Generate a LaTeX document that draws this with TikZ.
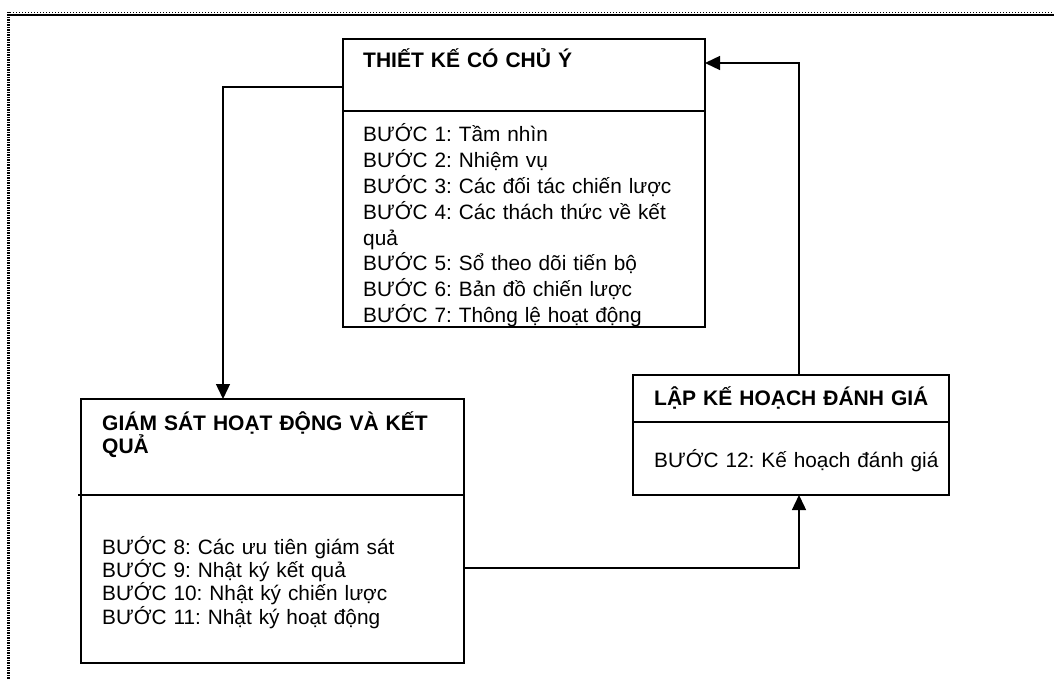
\documentclass[tikz,border=0pt]{standalone}
\usepackage{fontspec}
\setmainfont{Liberation Sans}
\usetikzlibrary{arrows.meta}
\frenchspacing

\begin{document}
\begin{tikzpicture}[x=1pt, y=-1pt,
    box/.style={draw, rectangle, line width=2pt, anchor=north west, inner sep=0pt, outer sep=0pt},
    rule/.style={line width=2pt},
    flow/.style={-{Triangle[length=15pt, width=14pt]}, line width=1.4pt},
    headtext/.style={anchor=base west, inner sep=0pt, align=left, text width=420pt, font=\bfseries\fontsize{21}{23.3}\selectfont},
    itemtext/.style={anchor=base west, inner sep=0pt, align=left, text width=420pt, font=\fontsize{20.8}{22}\selectfont}]
    \useasboundingbox (0,0) rectangle (1054,679);

    % page frame
    \draw [line width=1pt, dotted] (7,12.5) -- (1054,12.5);
    \draw [line width=2pt] (9,15.5) -- (1054,15.5);
    \draw [line width=3pt, dash pattern=on 1.5pt off 1pt] (8.5,12) -- (8.5,679);

    % boxes
    \node [box, minimum width=362pt, minimum height=288pt] (designbox) at (343,39) {};
    \node [box, minimum width=383pt, minimum height=264pt] (monitorbox) at (81,399) {};
    \node [box, minimum width=316pt, minimum height=120pt] (planbox) at (633,375) {};

    \draw [rule] (designbox.west |- 0,111) -- (designbox.east |- 0,111);
    \draw [rule] (78,495) -- (monitorbox.east |- 0,495);
    \draw [rule] (planbox.west |- 0,422) -- (planbox.east |- 0,422);

    % texts
    \node [headtext] (designtitle) at (363,68) {THIẾT KẾ CÓ CHỦ Ý};
    \begin{scope}
        \clip (343,112) rectangle (705,326.5);
        \node [itemtext, font=\fontsize{20.8}{25.8}\selectfont] (designsteps) at (363,142) {BƯỚC 1: Tầm nhìn\\
            BƯỚC 2: Nhiệm vụ\\
            BƯỚC 3: Các đối tác chiến lược\\
            BƯỚC 4: Các thách thức về kết\\
            quả\\
            BƯỚC 5: Sổ theo dõi tiến bộ\\
            BƯỚC 6: Bản đồ chiến lược\\
            BƯỚC 7: Thông lệ hoạt động};
    \end{scope}

    \node [headtext] (monitortitle) at (102,430) {GIÁM SÁT HOẠT ĐỘNG VÀ KẾT\\ QUẢ};
    \node [itemtext] (monitorsteps) at (102,554) {BƯỚC 8: Các ưu tiên giám sát\\
        BƯỚC 9: Nhật ký kết quả\\
        BƯỚC 10: Nhật ký chiến lược\\
        BƯỚC 11: Nhật ký hoạt động};

    \node [headtext] (plantitle) at (654,405.5) {LẬP KẾ HOẠCH ĐÁNH GIÁ};
    \node [itemtext] (plansteps) at (654,467) {BƯỚC 12: Kế hoạch đánh giá};

    % connectors
    \coordinate (leftbend) at (223,87);
    \coordinate (rightbend) at (799,63);
    \coordinate (lowbend) at (799,568);

    \draw [flow] (designbox.west |- leftbend) -- (leftbend) -- (leftbend |- monitorbox.north);
    \draw [flow] (monitorbox.east |- lowbend) -- (lowbend) -- (lowbend |- planbox.south);
    \draw [flow] (rightbend |- planbox.north) -- (rightbend) -- (designbox.east |- rightbend);
\end{tikzpicture}
\end{document}
